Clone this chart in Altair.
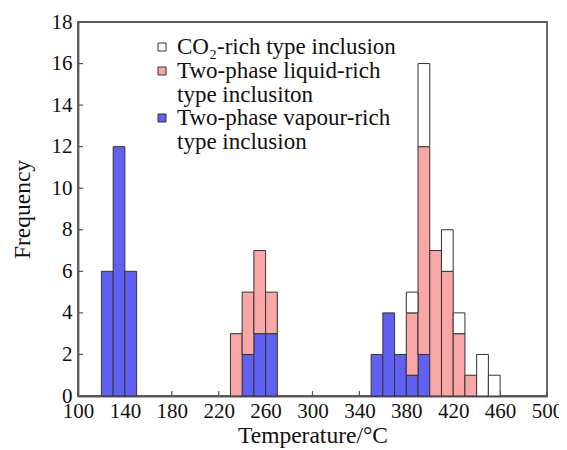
import altair as alt
import pandas as pd

# bin starts (°C), bin width 10
bin_starts = [120, 130, 140, 230, 240, 250, 260, 350, 360, 370, 380, 390, 400, 410, 420, 430, 440, 450]
vapour = [6, 12, 6, 0, 2, 3, 3, 2, 4, 2, 1, 2, 0, 0, 0, 0, 0, 0]
liquid = [0, 0, 0, 3, 3, 4, 2, 0, 0, 0, 3, 10, 7, 6, 3, 1, 0, 0]
co2 = [0, 0, 0, 0, 0, 0, 0, 0, 0, 0, 1, 4, 0, 2, 1, 0, 2, 1]
bin_width = 10

series_names = ["vapour", "liquid", "co2"]
series_values = [vapour, liquid, co2]
series_colors = ["#6060f2", "#f8a6a6", "#ffffff"]

x_ticks = [100, 140, 180, 220, 260, 300, 340, 380, 420, 460, 500]
y_ticks = [0, 2, 4, 6, 8, 10, 12, 14, 16, 18]

legend_labels = [
    ["CO₂-rich type inclusion"],
    ["Two-phase liquid-rich", "type inclusiton"],
    ["Two-phase vapour-rich", "type inclusion"],
]
legend_colors = ["#ffffff", "#f8a6a6", "#6060f2"]

# stack series bottom-up: vapour, liquid, CO2
rows = []
base = [0] * len(bin_starts)
for name, vals in zip(series_names, series_values):
    for i, (b, v) in enumerate(zip(bin_starts, vals)):
        if v > 0:
            rows.append({"start": b, "end": b + bin_width,
                         "lo": base[i], "hi": base[i] + v, "series": name})
        base[i] += v
df = pd.DataFrame(rows)

FONT = "Liberation Serif"
W, H = 469, 374

xscale = alt.Scale(domain=[100, 500], nice=False, zero=False)
yscale = alt.Scale(domain=[0, 18], nice=False)
xaxis = alt.Axis(values=x_ticks, title="Temperature/°C", ticks=False, labelFlush=False,
                 grid=False, labelPadding=4, titlePadding=2)
yaxis = alt.Axis(values=y_ticks, title="Frequency", ticks=False, labelFlush=False,
                 grid=False, labelPadding=6, titlePadding=17)

xticks_df = pd.DataFrame({"t": x_ticks})
yticks_df = pd.DataFrame({"t": y_ticks})

xtick_layer = alt.Chart(xticks_df).mark_rule(color="#555", strokeWidth=1.2).encode(
    x=alt.X("t:Q", scale=xscale, axis=xaxis),
    y=alt.value(H), y2=alt.value(H - 5))
ytick_layer = alt.Chart(yticks_df).mark_rule(color="#555", strokeWidth=1.2).encode(
    y=alt.Y("t:Q", scale=yscale, axis=yaxis),
    x=alt.value(0), x2=alt.value(5))

bars = alt.Chart(df).mark_rect(stroke="#333333", strokeWidth=1).encode(
    x=alt.X("start:Q", scale=xscale, axis=xaxis),
    x2="end:Q",
    y=alt.Y("lo:Q", scale=yscale, axis=yaxis),
    y2="hi:Q",
    color=alt.Color("series:N", scale=alt.Scale(domain=series_names, range=series_colors),
                    legend=None),
)

layers = [xtick_layer, ytick_layer, bars]

# legend
leg_y = [25, 49, 96]
for i, (lab, col) in enumerate(zip(legend_labels, legend_colors)):
    sq = alt.Chart(pd.DataFrame({"a": [0]})).mark_rect(
        fill=col, stroke="#333333", strokeWidth=1).encode(
        x=alt.value(80), x2=alt.value(88),
        y=alt.value(leg_y[i] - 4), y2=alt.value(leg_y[i] + 4))
    txt = alt.Chart(pd.DataFrame({"a": [0]})).mark_text(
        text=lab if len(lab) > 1 else lab[0], align="left", baseline="middle",
        font=FONT, fontSize=23, lineHeight=23.5, color="#111").encode(
        x=alt.value(99), y=alt.value(leg_y[i]))
    layers += [sq, txt]

chart = alt.layer(*layers).properties(
    width=W, height=H,
    autosize=alt.AutoSizeParams(type="none"),
    padding={"left": 70, "top": 14, "right": 12, "bottom": 54},
).configure_view(
    stroke="#5a5a5a", strokeWidth=1.8
).configure_axis(
    domainColor="#5a5a5a", domainWidth=1.8,
    labelFont=FONT, labelFontSize=21, labelColor="#111",
    titleFont=FONT, titleFontSize=23.5, titleColor="#111", titleFontWeight="normal",
)

chart.save("out.html", embed_options={"renderer": "svg", "actions": False})
